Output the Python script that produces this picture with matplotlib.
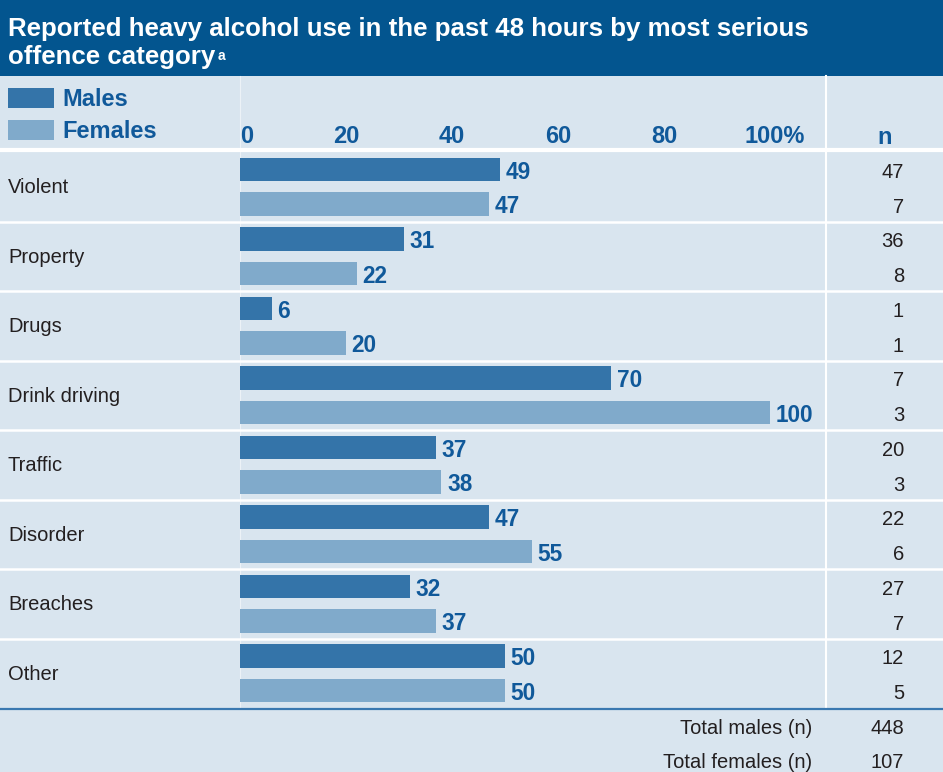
import matplotlib.pyplot as plt
import numpy as np

plt.rcParams['font.family'] = ['Liberation Sans', 'DejaVu Sans']

categories = ['Violent', 'Property', 'Drugs', 'Drink driving', 'Traffic',
              'Disorder', 'Breaches', 'Other']
males = [49, 31, 6, 70, 37, 47, 32, 50]
females = [47, 22, 20, 100, 38, 55, 37, 50]
n_males = [47, 36, 1, 7, 20, 22, 27, 12]
n_females = [7, 8, 1, 3, 3, 6, 7, 5]
ticks = [0, 20, 40, 60, 80, 100]
tick_labels = ['0', '20', '40', '60', '80', '100%']
total_males = 448
total_females = 107

BG = '#d9e5ef'
BAND = '#03558f'
MALE = '#3474a9'
FEMALE = '#80aacb'
BLUE_TXT = '#10599a'
DARK = '#231f20'

W, H = 943, 772
fig = plt.figure(figsize=(W / 100, H / 100), dpi=100)
fig.patch.set_facecolor(BG)

# full-figure overlay in pixel coordinates for the table furniture
bg = fig.add_axes([0, 0, 1, 1])
bg.set_xlim(0, W)
bg.set_ylim(H, 0)
bg.axis('off')

bg.add_patch(plt.Rectangle((0, 0), W, 76, color=BAND, lw=0))
bg.text(8, 36, 'Reported heavy alcohol use in the past 48 hours by most serious',
        color='white', fontsize=18.6, fontweight='bold', va='baseline')
t2 = bg.text(8, 64, 'offence category', color='white', fontsize=18.6,
             fontweight='bold', va='baseline')
bg.annotate('a', xy=(1, 1), xycoords=t2, xytext=(2, -3), textcoords='offset points',
            color='white', fontsize=10, fontweight='bold', va='top')

# legend
bg.add_patch(plt.Rectangle((8, 88), 46, 20, color=MALE, lw=0))
bg.add_patch(plt.Rectangle((8, 120), 46, 20, color=FEMALE, lw=0))
bg.text(62, 100, 'Males', color=BLUE_TXT, fontsize=17, fontweight='bold', va='center')
bg.text(62, 132, 'Females', color=BLUE_TXT, fontsize=17, fontweight='bold', va='center')
bg.text(885, 137, 'n', color=BLUE_TXT, fontsize=17, fontweight='bold',
        va='center', ha='center')

# grid lines
top, row_h = 152, 69.5
bg.plot([0, W], [150, 150], color='white', lw=3)
for i in range(1, len(categories)):
    y = top + i * row_h
    bg.plot([0, W], [y, y], color='white', lw=1.8)
bg.plot([825.5, 825.5], [76, 708], color='white', lw=1.5)
bg.plot([240, 240], [76, 708], color='white', lw=0.8, alpha=0.5)
bg.plot([0, W], [709, 709], color='#3a78b0', lw=1.6)

for i, cat in enumerate(categories):
    yc = top + (i + 0.5) * row_h
    bg.text(8, yc + 1, cat, color=DARK, fontsize=14.5, va='center')
    bg.text(904, top + (i + 0.25) * row_h + 3, str(n_males[i]), color=DARK,
            fontsize=14.5, va='center', ha='right')
    bg.text(904, top + (i + 0.75) * row_h + 3, str(n_females[i]), color=DARK,
            fontsize=14.5, va='center', ha='right')

bg.text(812, 728, 'Total males (n)', color=DARK, fontsize=14.5, va='center', ha='right')
bg.text(812, 762, 'Total females (n)', color=DARK, fontsize=14.5, va='center', ha='right')
bg.text(904, 728, str(total_males), color=DARK, fontsize=14.5, va='center', ha='right')
bg.text(904, 762, str(total_females), color=DARK, fontsize=14.5, va='center', ha='right')

# bar axes: 0 -> x=240px, 100 -> x=770px
ax = fig.add_axes([240 / W, 1 - 708 / H, 530 / W, 556 / H])
ax.set_facecolor('none')
ax.set_xlim(0, 100)
ax.set_ylim(len(categories), 0)
ax.axis('off')

y = np.arange(len(categories))
bh = 0.335
mb = ax.barh(y + 0.25, males, height=bh, color=MALE, lw=0)
fb = ax.barh(y + 0.75, females, height=bh, color=FEMALE, lw=0)
for bars, vals in ((mb, males), (fb, females)):
    for bar, v in zip(bars, vals):
        ax.annotate(str(v), xy=(bar.get_width(), bar.get_y() + bar.get_height() / 2),
                    xytext=(4, -2), textcoords='offset points', va='center',
                    color=BLUE_TXT, fontsize=16.3, fontweight='bold',
                    annotation_clip=False)

for t, lab in zip(ticks, tick_labels):
    xt = t if t > 0 else 1.3
    if t == 100:
        xt = 100.8
    ax.text(xt, -0.22, lab, color=BLUE_TXT, fontsize=17,
            fontweight='bold', ha='center', va='center', clip_on=False)

fig.savefig('out.png', dpi=100, facecolor=BG)
